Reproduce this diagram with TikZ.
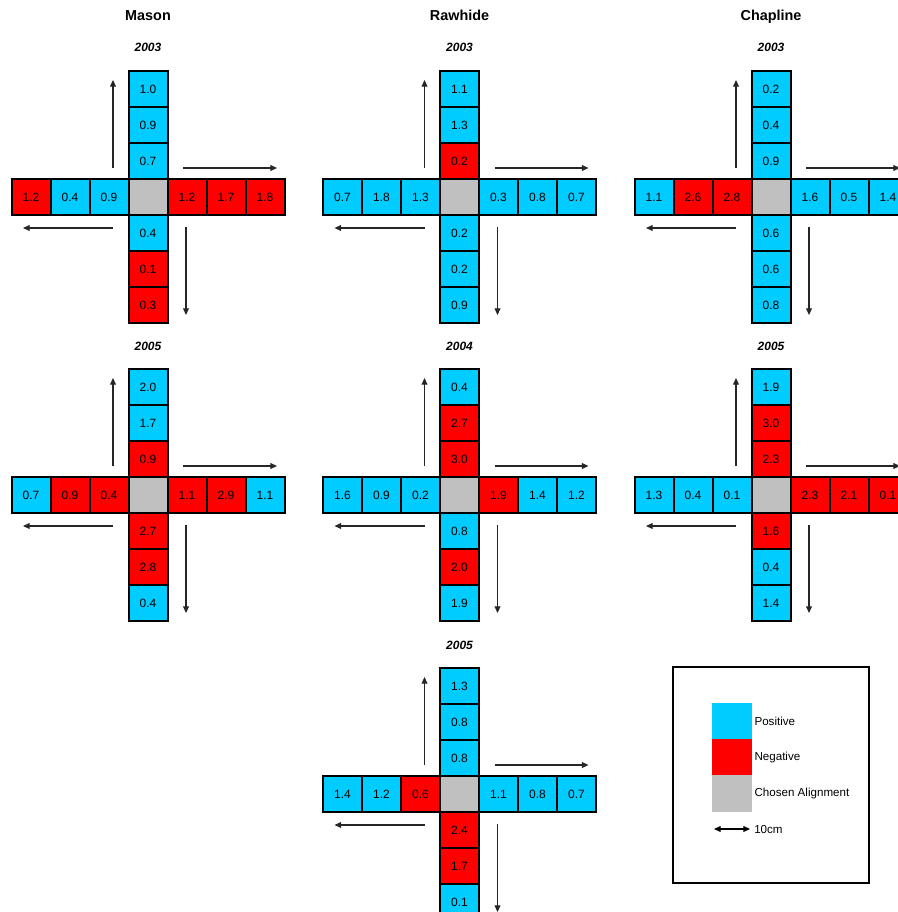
\documentclass[tikz,border=0pt]{standalone}
\usepackage{fontspec}
\setmainfont{Liberation Sans}
\usetikzlibrary{arrows.meta}
\definecolor{skyc}{HTML}{00CCFF}
\definecolor{redc}{HTML}{FF0000}
\definecolor{grayc}{HTML}{C0C0C0}

\begin{document}
\begin{tikzpicture}[x=0.75pt,y=-0.75pt,
  cell/.style={draw=black,line width=1.5pt,minimum width=29.25pt,minimum height=27pt,inner sep=0pt,font=\fontsize{9}{10}\selectfont},
  p/.style={fill=skyc},
  n/.style={fill=redc},
  g/.style={fill=grayc},
  ar/.style={draw=black!85,line width=0.8pt,-{Triangle[length=5pt,width=4.4pt]}},
  ttl/.style={font=\fontsize{10.8}{12}\selectfont\bfseries,anchor=base},
  yr/.style={font=\fontsize{9}{10}\selectfont\bfseries\itshape,anchor=base},
  lab/.style={font=\fontsize{8.7}{10}\selectfont,anchor=west,inner sep=0pt}]
  \useasboundingbox (0,0) rectangle (897,912);
  % one cross: #1 name, #2,#3 centre, #4 year, #5 up, #6 left, #7 right, #8 down
  \newcommand{\cross}[8]{%
    \node[yr] (#1yr) at (#2,#3-145) {#4};
    \node[cell,g] (#1c) at (#2,#3) {};
    \foreach \cl/\val [count=\i] in {#5} \node[cell,\cl] (#1u\i) at (#2,#3-144+36*\i) {\val};
    \foreach \cl/\val [count=\i] in {#6} \node[cell,\cl] (#1l\i) at (#2-156+39*\i,#3) {\val};
    \foreach \cl/\val [count=\i] in {#7} \node[cell,\cl] (#1r\i) at (#2+39*\i,#3) {\val};
    \foreach \cl/\val [count=\i] in {#8} \node[cell,\cl] (#1d\i) at (#2,#3+36*\i) {\val};
    \coordinate (#1ua) at (#2-35,#3-29); \coordinate (#1ub) at (#2-35,#3-117);
    \coordinate (#1ra) at (#2+35,#3-29); \coordinate (#1rb) at (#2+129,#3-29);
    \coordinate (#1la) at (#2-35,#3+31); \coordinate (#1lb) at (#2-125,#3+31);
    \coordinate (#1da) at (#2+38,#3+30); \coordinate (#1db) at (#2+38,#3+118);
    \draw[ar] (#1ua)--(#1ub); \draw[ar] (#1ra)--(#1rb);
    \draw[ar] (#1la)--(#1lb); \draw[ar] (#1da)--(#1db);}
  \node[ttl] (mason) at (148,21) {Mason};
  \node[ttl] (rawhide) at (459.5,21) {Rawhide};
  \node[ttl] (chapline) at (771,21) {Chapline};
  \cross{ma}{148}{197}{2003}{p/1.0,p/0.9,p/0.7}{n/1.2,p/0.4,p/0.9}{n/1.2,n/1.7,n/1.8}{p/0.4,n/0.1,n/0.3}
  \cross{ra}{459.5}{197}{2003}{p/1.1,p/1.3,n/0.2}{p/0.7,p/1.8,p/1.3}{p/0.3,p/0.8,p/0.7}{p/0.2,p/0.2,p/0.9}
  \cross{ca}{771}{197}{2003}{p/0.2,p/0.4,p/0.9}{p/1.1,n/2.6,n/2.8}{p/1.6,p/0.5,p/1.4}{p/0.6,p/0.6,p/0.8}
  \cross{mb}{148}{495}{2005}{p/2.0,p/1.7,n/0.9}{p/0.7,n/0.9,n/0.4}{n/1.1,n/2.9,p/1.1}{n/2.7,n/2.8,p/0.4}
  \cross{rb}{459.5}{495}{2004}{p/0.4,n/2.7,n/3.0}{p/1.6,p/0.9,p/0.2}{n/1.9,p/1.4,p/1.2}{p/0.8,n/2.0,p/1.9}
  \cross{cb}{771}{495}{2005}{p/1.9,n/3.0,n/2.3}{p/1.3,p/0.4,p/0.1}{n/2.3,n/2.1,n/0.1}{n/1.6,p/0.4,p/1.4}
  \cross{rc}{459.5}{794}{2005}{p/1.3,p/0.8,p/0.8}{p/1.4,p/1.2,n/0.6}{p/1.1,p/0.8,p/0.7}{n/2.4,n/1.7,p/0.1}
  % legend
  \node[draw,line width=1.5pt,minimum width=147pt,minimum height=162pt,inner sep=0pt] (legend) at (771,775) {};
  \node[p,minimum width=30pt,minimum height=27pt,inner sep=0pt] (keyp) at (732,721) {};
  \node[n,minimum width=30pt,minimum height=27pt,inner sep=0pt] (keyn) at (732,757) {};
  \node[g,minimum width=30pt,minimum height=27.5pt,inner sep=0pt] (keyg) at (732,793.5) {};
  \node[lab] (labp) at ([xshift=1.5pt]keyp.east) {Positive};
  \node[lab] (labn) at ([xshift=1.5pt]keyn.east) {Negative};
  \node[lab] (labg) at ([xshift=1.5pt]keyg.east) {Chosen Alignment};
  \coordinate (sa) at (714,829); \coordinate (sb) at (750,829);
  \draw[ar,draw=black,{Triangle[length=5pt,width=4.4pt]}-{Triangle[length=5pt,width=4.4pt]}] (sa)--(sb);
  \node[lab] (scl) at (754,829) {10cm};
\end{tikzpicture}
\end{document}
